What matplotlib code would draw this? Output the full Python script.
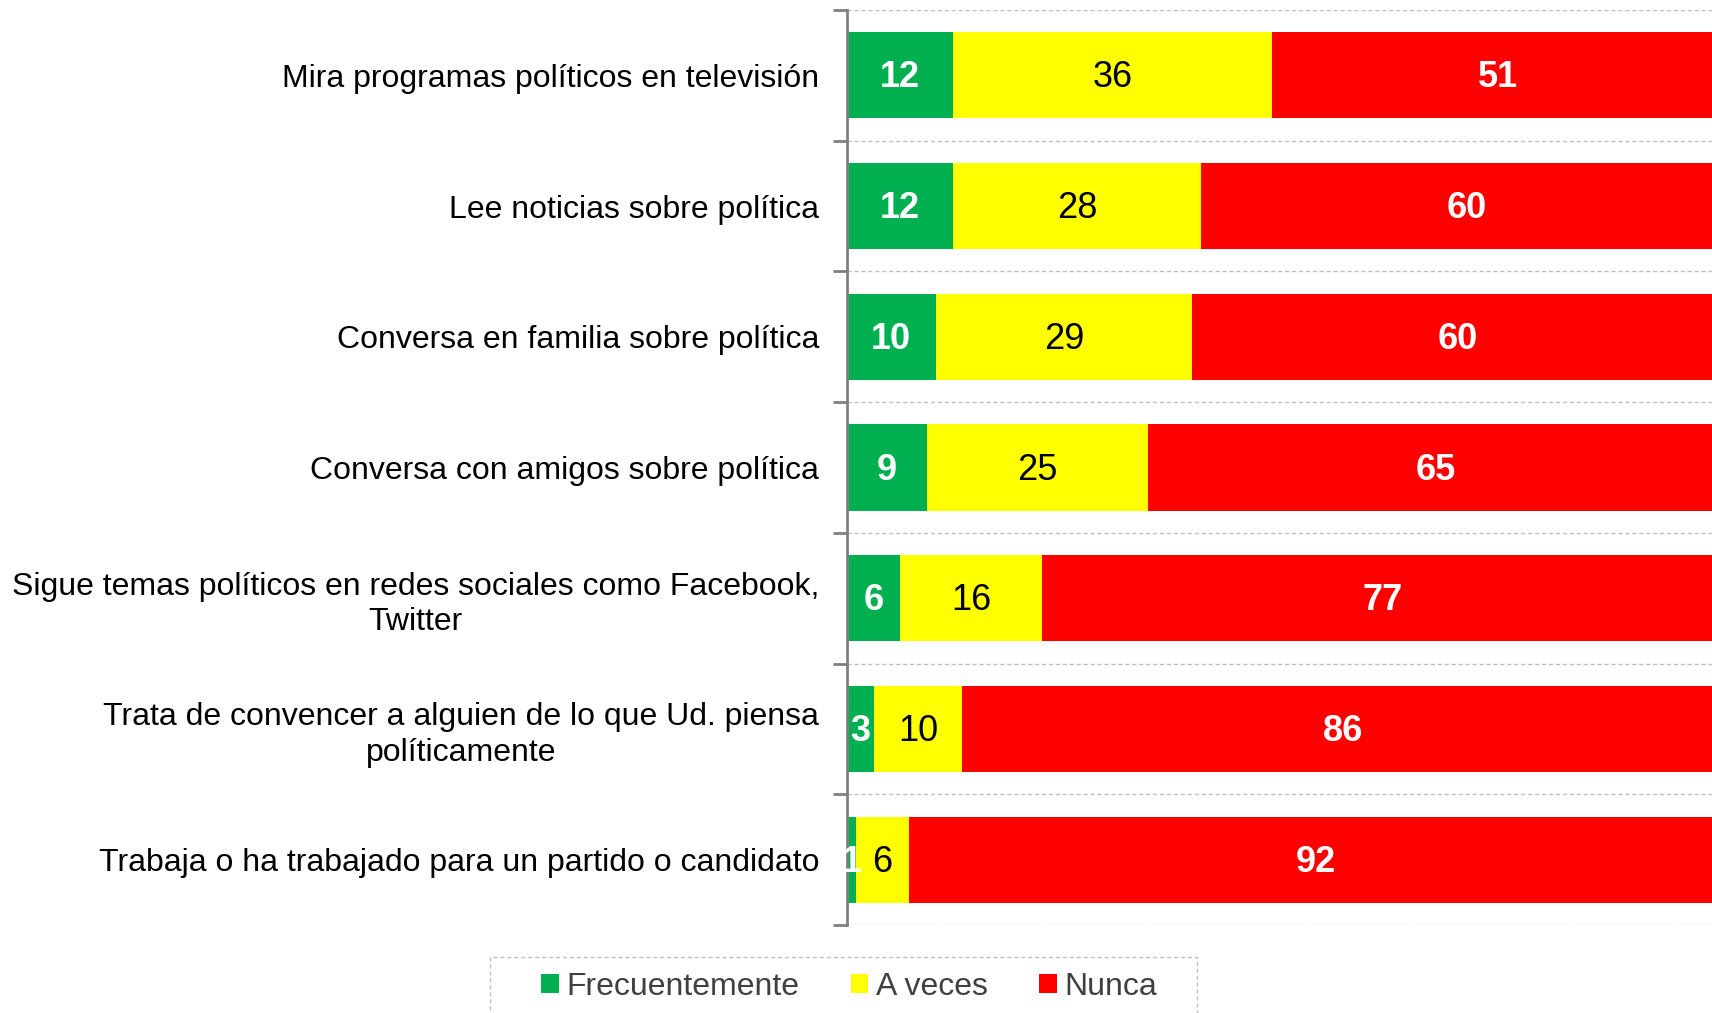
import matplotlib
matplotlib.use("Agg")
import matplotlib.pyplot as plt
from matplotlib.patches import Patch, Rectangle
import numpy as np

plt.rcParams['font.family'] = ['Liberation Sans', 'DejaVu Sans']

categories = [
    "Mira programas políticos en televisión",
    "Lee noticias sobre política",
    "Conversa en familia sobre política",
    "Conversa con amigos sobre política",
    "Sigue temas políticos en redes sociales como Facebook,\nTwitter",
    "Trata de convencer a alguien de lo que Ud. piensa\npolíticamente",
    "Trabaja o ha trabajado para un partido o candidato",
]
frecuentemente = [12, 12, 10, 9, 6, 3, 1]
a_veces = [36, 28, 29, 25, 16, 10, 6]
nunca = [51, 60, 60, 65, 77, 86, 92]
series_names = ["Frecuentemente", "A veces", "Nunca"]
colors = ["#00B050", "#FFFF00", "#FF0000"]
text_colors = ["white", "black", "white"]
text_weights = ["bold", "normal", "bold"]

W, H = 1712, 1013
fig = plt.figure(figsize=(W/100, H/100), dpi=100)
ax = fig.add_axes([847/W, 1-925/H, 1-847/W, (925-10)/H])

y = np.arange(len(categories))
left = np.zeros(len(categories))
for vals, name, col, tc, tw in zip([frecuentemente, a_veces, nunca], series_names, colors, text_colors, text_weights):
    vals = np.array(vals, dtype=float)
    ax.barh(y, vals, left=left, height=0.66, color=col, label=name)
    for yi, l, v in zip(y, left, vals):
        ax.text(l + v/2, yi + 0.02, f"{int(v)}", ha='center', va='center', color=tc,
                fontsize=26, fontweight=tw)
    left = left + vals

ax.set_xlim(0, 97.7)
ax.set_ylim(len(categories) - 0.5, -0.5)
ax.set_xticks([])
ax.set_yticks(y)
ax.set_yticklabels(categories, fontsize=23)
for lab in ax.get_yticklabels():
    lab.set_multialignment('center')
    lab.set_linespacing(1.25)
ax.tick_params(axis='y', which='major', length=0, pad=20)
ax.set_yticks(np.arange(-0.5, len(categories), 1), minor=True)
ax.tick_params(axis='y', which='minor', length=10, width=2, color='#808080')
ax.grid(axis='y', which='minor', linestyle=(0, (3, 2)), color='#bfbfbf', linewidth=1)
ax.set_axisbelow(True)
for s in ['top', 'right', 'bottom']:
    ax.spines[s].set_visible(False)
ax.spines['left'].set_color('#808080')
ax.spines['left'].set_linewidth(2)

# legend frame (dashed box extending past the bottom edge)
box = Rectangle((490/W, -0.05), (1197-490)/W, 0.05 + 1-957/H, transform=fig.transFigure,
                facecolor='none', edgecolor='#bfbfbf', linewidth=1, linestyle=(0, (3, 2)))
fig.add_artist(box)

handles = [Patch(facecolor=c, edgecolor='none') for c in colors]
leg = fig.legend(handles, series_names, loc='center left', bbox_to_anchor=(541/W, 1-987/H),
                 borderaxespad=0, borderpad=0, ncol=3, fontsize=23, frameon=False,
                 handlelength=0.55, handleheight=0.55, handletextpad=0.25, columnspacing=1.6,
                 labelcolor='#404040')

fig.savefig("out.png", dpi=100)
